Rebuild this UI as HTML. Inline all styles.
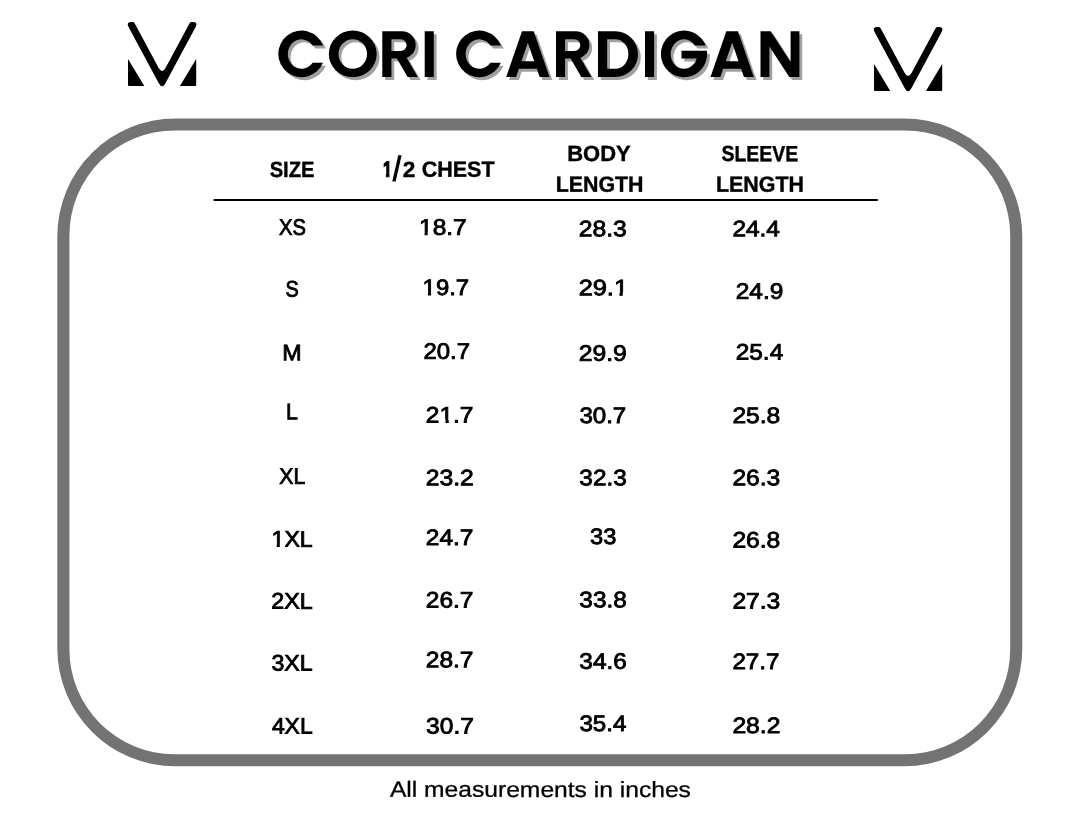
<!DOCTYPE html>
<html lang="en"><head><meta charset="utf-8"><title>Cori Cardigan Size Chart</title>
<style>
html,body{margin:0;padding:0;background:#fff;}
body{width:1080px;height:834px;position:relative;overflow:hidden;font-family:"Liberation Sans",sans-serif;color:#000;}
#pg{position:absolute;left:0;top:0;width:1080px;height:834px;will-change:transform;}
.t{position:absolute;left:0;top:0;white-space:nowrap;line-height:1;transform-origin:0 0;display:block;}
.t i{font-style:normal;display:inline-block;position:relative;}
.t i::before,.t i::after{content:"";position:absolute;height:0.42em;background:#fff;}
.hdr{font-size:22.0px;font-weight:700;-webkit-text-stroke:0.4px #000;}
.hdr i::before,.hdr i::after{top:0.637em;}
.hdr i::before{left:-0.03em;width:0.250em;}
.hdr i::after{left:0.384em;right:-0.03em;}
.hreg{font-size:22.0px;font-weight:400;-webkit-text-stroke:0.9px #000;}
.hreg i::before,.hreg i::after{top:0.653em;}
.hreg i::before{left:-0.03em;width:0.257em;}
.hreg i::after{left:0.364em;right:-0.03em;}
.hone{font-size:22.0px;font-weight:700;-webkit-text-stroke:1.2px #000;}
.hone i::before,.hone i::after{top:0.619em;}
.hone i::before{left:-0.03em;width:0.232em;}
.hone i::after{left:0.402em;right:-0.03em;}
.row{font-size:22.4px;font-weight:400;-webkit-text-stroke:0.85px #000;}
.row i::before,.row i::after{top:0.654em;}
.row i::before{left:-0.03em;width:0.259em;}
.row i::after{left:0.363em;right:-0.03em;}
.foot{font-size:22.0px;font-weight:400;-webkit-text-stroke:0.3px #000;}
.foot i::before,.foot i::after{top:0.666em;}
.foot i::before{left:-0.03em;width:0.271em;}
.foot i::after{left:0.351em;right:-0.03em;}
.ttlsvg{position:absolute;left:0;top:0;}
.ttltxt{position:absolute;left:278px;top:22px;margin:0;font-size:64px;line-height:1;font-weight:700;white-space:nowrap;color:transparent;transform-origin:0 0;transform:scaleX(1.07);}
.frame{position:absolute;left:0;top:0;}
svg.logo{position:absolute;}
</style></head><body><div id="pg">
<svg class="logo" style="left:123.8px;top:20.0px" width="80" height="72" viewBox="-4 -2 80 72" aria-hidden="true"><path d="M0.55 4.93 Q-2.10 0.00 3.50 0.00 L4.40 0.00 Q6.00 0.00 6.76 1.41 L30.55 45.69 Q34.10 52.30 37.65 45.69 L61.44 1.41 Q62.20 0.00 63.80 0.00 L64.70 0.00 Q70.30 0.00 67.65 4.93 L37.42 61.14 Q34.10 67.30 30.78 61.14 Z M0.16 37.16 Q0.00 36.90 0.00 37.20 L0.00 62.90 Q0.00 63.90 1.00 63.90 L16.00 63.90 Q16.30 63.90 16.14 63.64 Z M68.04 37.16 Q68.20 36.90 68.20 37.20 L68.20 62.90 Q68.20 63.90 67.20 63.90 L52.20 63.90 Q51.90 63.90 52.06 63.64 Z" fill="#000"/></svg>
<svg class="logo" style="left:870.2px;top:24.6px" width="80" height="72" viewBox="-4 -2 80 72" aria-hidden="true"><path d="M0.55 4.93 Q-2.10 0.00 3.50 0.00 L4.40 0.00 Q6.00 0.00 6.76 1.41 L30.55 45.69 Q34.10 52.30 37.65 45.69 L61.44 1.41 Q62.20 0.00 63.80 0.00 L64.70 0.00 Q70.30 0.00 67.65 4.93 L37.42 61.14 Q34.10 67.30 30.78 61.14 Z M0.16 37.16 Q0.00 36.90 0.00 37.20 L0.00 62.90 Q0.00 63.90 1.00 63.90 L16.00 63.90 Q16.30 63.90 16.14 63.64 Z M68.04 37.16 Q68.20 36.90 68.20 37.20 L68.20 62.90 Q68.20 63.90 67.20 63.90 L52.20 63.90 Q51.90 63.90 52.06 63.64 Z" fill="#000"/></svg>
<svg class="ttlsvg" width="1080" height="110" viewBox="0 0 1080 110" aria-hidden="true"><path d="M323.10 45.4 A23.2 23.3 0 1 0 322.98 62.7 L312.60 62.7 A13.7 14.75 0 1 1 312.60 45.4 Z M328.80 53.9 A23.95 23.3 0 1 1 376.70 53.9 A23.95 23.3 0 1 1 328.80 53.9 Z M338.50 54.05 A14.25 14.75 0 1 0 367.00 54.05 A14.25 14.75 0 1 0 338.50 54.05 Z M382.30 31.3 H402.05 A13.65 13.65 0 0 1 402.05 58.6 H391.40 V77.0 H382.30 Z M391.40 39.3 V51.0 H400.75 A5.85 5.85 0 0 0 400.75 39.3 Z M394.00 53.6 L404.20 53.6 L417.80 77.0 L407.60 77.0 Z M424.70 31.3 H433.80 V77.0 H424.70 Z M500.90 45.4 A23.2 23.3 0 1 0 500.78 62.7 L490.40 62.7 A13.7 14.75 0 1 1 490.40 45.4 Z M506.20 77.0 L522.00 31.3 L533.70 31.3 L549.50 77.0 L539.67 77.0 L536.83 68.8 L518.87 68.8 L516.03 77.0 Z M527.85 42.8 L521.49 61.2 L534.21 61.2 Z M556.00 31.3 H575.75 A13.65 13.65 0 0 1 575.75 58.6 H565.10 V77.0 H556.00 Z M565.10 39.3 V51.0 H574.45 A5.85 5.85 0 0 0 574.45 39.3 Z M567.70 53.6 L577.90 53.6 L591.50 77.0 L581.30 77.0 Z M598.00 31.3 H615.40 A22.6 22.85 0 0 1 615.40 77.0 H598.00 Z M607.20 39.3 V68.8 H615.40 A13 14.75 0 0 0 615.40 39.3 Z M645.00 31.3 H654.10 V77.0 H645.00 Z M705.51 45.4 A23.1 23.3 0 1 0 706.88 50.7 L681.50 50.7 L681.50 58.4 L696.71 58.4 A13.3 14.75 0 1 1 694.77 45.4 Z M710.50 77.0 L726.30 31.3 L738.00 31.3 L753.80 77.0 L743.97 77.0 L741.13 68.8 L723.17 68.8 L720.33 77.0 Z M732.15 42.8 L725.79 61.2 L738.51 61.2 Z M760.50 31.3 L770.70 31.3 L790.60 61.9 L790.60 31.3 L799.40 31.3 L799.40 77.0 L789.30 77.0 L769.40 46.4 L769.40 77.0 L760.50 77.0 Z" fill="#a0a0a0" transform="translate(2.8 3)"/><path d="M323.10 45.4 A23.2 23.3 0 1 0 322.98 62.7 L312.60 62.7 A13.7 14.75 0 1 1 312.60 45.4 Z M328.80 53.9 A23.95 23.3 0 1 1 376.70 53.9 A23.95 23.3 0 1 1 328.80 53.9 Z M338.50 54.05 A14.25 14.75 0 1 0 367.00 54.05 A14.25 14.75 0 1 0 338.50 54.05 Z M382.30 31.3 H402.05 A13.65 13.65 0 0 1 402.05 58.6 H391.40 V77.0 H382.30 Z M391.40 39.3 V51.0 H400.75 A5.85 5.85 0 0 0 400.75 39.3 Z M394.00 53.6 L404.20 53.6 L417.80 77.0 L407.60 77.0 Z M424.70 31.3 H433.80 V77.0 H424.70 Z M500.90 45.4 A23.2 23.3 0 1 0 500.78 62.7 L490.40 62.7 A13.7 14.75 0 1 1 490.40 45.4 Z M506.20 77.0 L522.00 31.3 L533.70 31.3 L549.50 77.0 L539.67 77.0 L536.83 68.8 L518.87 68.8 L516.03 77.0 Z M527.85 42.8 L521.49 61.2 L534.21 61.2 Z M556.00 31.3 H575.75 A13.65 13.65 0 0 1 575.75 58.6 H565.10 V77.0 H556.00 Z M565.10 39.3 V51.0 H574.45 A5.85 5.85 0 0 0 574.45 39.3 Z M567.70 53.6 L577.90 53.6 L591.50 77.0 L581.30 77.0 Z M598.00 31.3 H615.40 A22.6 22.85 0 0 1 615.40 77.0 H598.00 Z M607.20 39.3 V68.8 H615.40 A13 14.75 0 0 0 615.40 39.3 Z M645.00 31.3 H654.10 V77.0 H645.00 Z M705.51 45.4 A23.1 23.3 0 1 0 706.88 50.7 L681.50 50.7 L681.50 58.4 L696.71 58.4 A13.3 14.75 0 1 1 694.77 45.4 Z M710.50 77.0 L726.30 31.3 L738.00 31.3 L753.80 77.0 L743.97 77.0 L741.13 68.8 L723.17 68.8 L720.33 77.0 Z M732.15 42.8 L725.79 61.2 L738.51 61.2 Z M760.50 31.3 L770.70 31.3 L790.60 61.9 L790.60 31.3 L799.40 31.3 L799.40 77.0 L789.30 77.0 L769.40 46.4 L769.40 77.0 L760.50 77.0 Z" fill="#000"/></svg>
<h1 class="ttltxt">CORI CARDIGAN</h1>
<svg class="frame" width="1080" height="834" viewBox="0 0 1080 834" aria-hidden="true"><path fill="#737373" fill-rule="evenodd" d="M175.30 118.40H904.30A118 118 0 0 1 1022.30 236.40V648.30A118 118 0 0 1 904.30 766.30H175.30A118 118 0 0 1 57.30 648.30V236.40A118 118 0 0 1 175.30 118.40Z M174.40 130.50H905.20A105 105 0 0 1 1010.20 235.50V649.20A105 105 0 0 1 905.20 754.20H174.40A105 105 0 0 1 69.40 649.20V235.50A105 105 0 0 1 174.40 130.50Z"/><line x1="214.4" y1="199.95" x2="877.1" y2="199.95" stroke="#000" stroke-width="2.1" stroke-linecap="round"/></svg>
<span class="t hdr" style="transform:translate(269.66px,158.93px) scaleX(0.9170) rotate(0.06deg)">SIZE</span>
<span class="t hone" style="transform:translate(382.96px,158.68px) scaleX(0.7262) rotate(0.06deg)"><i>1</i></span>
<span class="t hreg" style="transform:translate(393.00px,152.91px) scale(1.2828,1.5353) rotate(0.06deg)">/</span>
<span class="t hdr" style="transform:translate(402.89px,159.05px) scaleX(1.0273) rotate(0.06deg)">2</span>
<span class="t hdr" style="transform:translate(421.69px,158.80px) scaleX(0.9773) rotate(0.06deg)">CHEST</span>
<span class="t hdr" style="transform:translate(567.25px,143.00px) scaleX(0.9976) rotate(0.06deg)">BODY</span>
<span class="t hdr" style="transform:translate(555.69px,173.70px) scaleX(0.9707) rotate(0.06deg)">LENGTH</span>
<span class="t hdr" style="transform:translate(721.47px,143.12px) scaleX(0.8840) rotate(0.06deg)">SLEEVE</span>
<span class="t hdr" style="transform:translate(715.98px,173.70px) scaleX(0.9730) rotate(0.06deg)">LENGTH</span>
<span class="t row" style="transform:translate(278.93px,216.68px) scaleX(0.9017) rotate(0.06deg)">XS</span>
<span class="t row" style="transform:translate(285.46px,278.48px) scaleX(0.8873) rotate(0.06deg)">S</span>
<span class="t row" style="transform:translate(282.17px,342.32px) scaleX(1.0394) rotate(0.06deg)">M</span>
<span class="t row" style="transform:translate(286.08px,401.23px) scaleX(0.9581) rotate(0.06deg)">L</span>
<span class="t row" style="transform:translate(279.34px,465.80px) scaleX(0.9468) rotate(0.06deg)">XL</span>
<span class="t row" style="transform:translate(271.60px,528.60px) scaleX(1.0305) rotate(0.06deg)"><i>1</i>XL</span>
<span class="t row" style="transform:translate(271.25px,590.60px) scaleX(1.0392) rotate(0.06deg)">2XL</span>
<span class="t row" style="transform:translate(271.51px,652.38px) scaleX(1.0326) rotate(0.06deg)">3XL</span>
<span class="t row" style="transform:translate(271.90px,715.50px) scaleX(1.0228) rotate(0.06deg)">4XL</span>
<span class="t row" style="transform:translate(419.09px,216.68px) scaleX(1.0918) rotate(0.06deg)"><i>1</i>8.7</span>
<span class="t row" style="transform:translate(422.64px,277.07px) scaleX(1.0650) rotate(0.06deg)"><i>1</i>9.7</span>
<span class="t row" style="transform:translate(423.43px,340.68px) scaleX(1.0675) rotate(0.06deg)">20.7</span>
<span class="t row" style="transform:translate(425.82px,404.50px) scaleX(1.0935) rotate(0.06deg)">2<i>1</i>.7</span>
<span class="t row" style="transform:translate(425.81px,467.27px) scaleX(1.1030) rotate(0.06deg)">23.2</span>
<span class="t row" style="transform:translate(425.82px,527.00px) scaleX(1.0935) rotate(0.06deg)">24.7</span>
<span class="t row" style="transform:translate(425.82px,589.48px) scaleX(1.0935) rotate(0.06deg)">26.7</span>
<span class="t row" style="transform:translate(425.82px,649.27px) scaleX(1.0935) rotate(0.06deg)">28.7</span>
<span class="t row" style="transform:translate(426.09px,715.38px) scaleX(1.0965) rotate(0.06deg)">30.7</span>
<span class="t row" style="transform:translate(578.71px,218.18px) scaleX(1.1021) rotate(0.06deg)">28.3</span>
<span class="t row" style="transform:translate(578.69px,277.27px) scaleX(1.1325) rotate(0.06deg)">29.<i>1</i></span>
<span class="t row" style="transform:translate(578.71px,342.68px) scaleX(1.1053) rotate(0.06deg)">29.9</span>
<span class="t row" style="transform:translate(579.40px,404.98px) scaleX(1.0753) rotate(0.06deg)">30.7</span>
<span class="t row" style="transform:translate(579.39px,467.27px) scaleX(1.0862) rotate(0.06deg)">32.3</span>
<span class="t row" style="transform:translate(590.10px,525.98px) scaleX(1.0542) rotate(0.06deg)">33</span>
<span class="t row" style="transform:translate(579.39px,589.17px) scaleX(1.0862) rotate(0.06deg)">33.8</span>
<span class="t row" style="transform:translate(579.39px,650.77px) scaleX(1.0862) rotate(0.06deg)">34.6</span>
<span class="t row" style="transform:translate(579.40px,713.08px) scaleX(1.0767) rotate(0.06deg)">35.4</span>
<span class="t row" style="transform:translate(732.42px,218.30px) scaleX(1.0901) rotate(0.06deg)">24.4</span>
<span class="t row" style="transform:translate(735.72px,280.77px) scaleX(1.0935) rotate(0.06deg)">24.9</span>
<span class="t row" style="transform:translate(735.72px,341.48px) scaleX(1.0901) rotate(0.06deg)">25.4</span>
<span class="t row" style="transform:translate(732.41px,404.98px) scaleX(1.0997) rotate(0.06deg)">25.8</span>
<span class="t row" style="transform:translate(732.41px,467.27px) scaleX(1.0997) rotate(0.06deg)">26.3</span>
<span class="t row" style="transform:translate(732.41px,529.48px) scaleX(1.0997) rotate(0.06deg)">26.8</span>
<span class="t row" style="transform:translate(732.41px,590.58px) scaleX(1.0997) rotate(0.06deg)">27.3</span>
<span class="t row" style="transform:translate(732.43px,650.90px) scaleX(1.0793) rotate(0.06deg)">27.7</span>
<span class="t row" style="transform:translate(732.41px,714.98px) scaleX(1.1030) rotate(0.06deg)">28.2</span>
<span class="t foot" style="transform:translate(389.94px,778.77px) scaleX(1.1188) rotate(0.06deg)">All measurements in inches</span>
</div></body></html>
